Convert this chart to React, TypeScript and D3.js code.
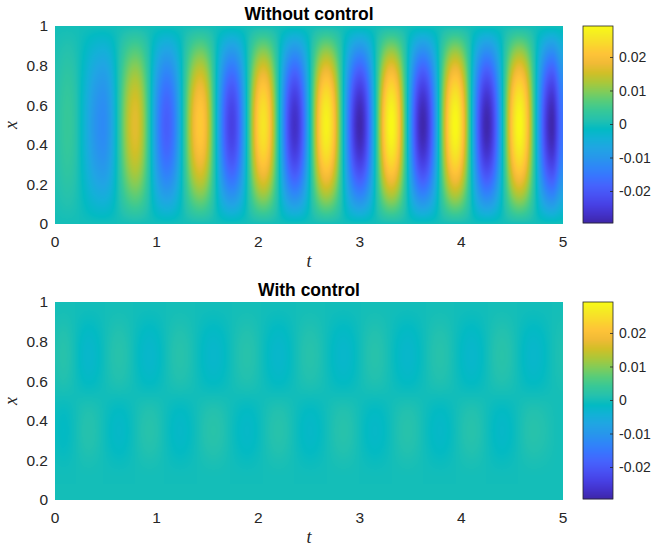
import React, { useMemo } from 'react'
import * as d3 from 'd3'

// crest / trough values read at x = 0.5, "Without control"
const topTimes = [0, 0.12, 0.47, 0.79, 1.1, 1.43, 1.74, 2.05, 2.36, 2.67, 3.0, 3.31, 3.62, 3.94, 4.25, 4.57, 4.89, 5.0]
const topPeaks = [0.002, 0.004, -0.012, 0.017, -0.019, 0.022, -0.024, 0.026, -0.027, 0.028, -0.029, 0.029, -0.029, 0.029, -0.029, 0.029, -0.029, -0.016]

// "With control": two weak lobes (upper near x = 0.73, lower near x = 0.35)
const botTimes = [0, 0.08, 0.33, 0.63, 0.93, 1.23, 1.56, 1.89, 2.2, 2.51, 2.84, 3.15, 3.47, 3.79, 4.1, 4.4, 4.71, 5.0]
const upperLobe = [0.0012, 0.0018, -0.0025, 0.0018, -0.0025, 0.0018, -0.0025, 0.0018, -0.0025, 0.0018, -0.0025, 0.0018, -0.0025, 0.0018, -0.0025, 0.002, -0.0025, 0.001]
const lowerLobe = [-0.001, -0.0015, 0.0016, -0.002, 0.0018, -0.002, 0.002, -0.002, 0.0018, -0.002, 0.0018, -0.002, 0.0018, -0.002, 0.0018, -0.002, 0.0018, 0]

const tTicks = [0, 1, 2, 3, 4, 5]
const xTicks = [0, 0.2, 0.4, 0.6, 0.8, 1]
const cbTicks = [-0.02, -0.01, 0, 0.01, 0.02]
const cLim = 0.0294

// parula (every 3rd entry of the 64 map)
const parula = [
  [0.2422, 0.1504, 0.6603], [0.2647, 0.1978, 0.7952], [0.2783, 0.2559, 0.8991], [0.281, 0.3228, 0.9579],
  [0.2699, 0.3892, 0.9906], [0.2206, 0.4603, 0.9973], [0.1786, 0.5289, 0.9682], [0.154, 0.5902, 0.9218],
  [0.1248, 0.6459, 0.8883], [0.0689, 0.6948, 0.8394], [0.0067, 0.7312, 0.766], [0.1408, 0.7584, 0.6842],
  [0.2161, 0.7843, 0.5923], [0.3406, 0.8008, 0.4789], [0.5044, 0.7993, 0.348], [0.672, 0.7793, 0.2227],
  [0.8203, 0.7498, 0.1535], [0.9393, 0.7288, 0.21], [0.997, 0.7659, 0.2199], [0.9786, 0.8386, 0.1766],
  [0.9597, 0.9135, 0.1423], [0.9769, 0.9839, 0.0805],
]

const W = 653
const H = 546
const L = 55
const R = 563
const panels = [
  { title: 'Without control', top: 26, bottom: 224 },
  { title: 'With control', top: 302, bottom: 500 },
]
const cbL = 583
const cbR = 613
const font = 'Liberation Sans, Arial, Helvetica, sans-serif'
const ink = '#262626'
const tickSize = 15.5

const colorScale = d3.scaleLinear<string>()
  .domain(parula.map((_, i) => -cLim + (2 * cLim * i) / (parula.length - 1)))
  .range(parula.map(c => d3.rgb(c[0] * 255, c[1] * 255, c[2] * 255).formatHex()))
  .interpolate(d3.interpolateRgb)
  .clamp(true)

// half-cosine between read extrema
function sample(times: number[], vals: number[], t: number) {
  let i = d3.bisectRight(times, t) - 1
  i = Math.max(0, Math.min(times.length - 2, i))
  const s = (t - times[i]) / (times[i + 1] - times[i])
  return vals[i] + (vals[i + 1] - vals[i]) * (1 - Math.cos(Math.PI * s)) / 2
}

function bump(x: number, c: number, w: number) {
  const d = Math.abs(x - c)
  if (d >= w) return 0
  const v = Math.cos((Math.PI * d) / (2 * w))
  return v * v
}

const fields = [
  (t: number, x: number) => sample(topTimes, topPeaks, t) * Math.sin(Math.PI * x),
  (t: number, x: number) =>
    sample(botTimes, upperLobe, t) * bump(x, 0.73, 0.3) + sample(botTimes, lowerLobe, t) * bump(x, 0.35, 0.27),
]

function renderField(f: (t: number, x: number) => number, top: number, bottom: number) {
  const tScale = d3.scaleLinear().domain([0, 5]).range([L, R])
  const xScale = d3.scaleLinear().domain([0, 1]).range([bottom, top])
  const w = R - L
  const h = bottom - top
  const canvas = document.createElement('canvas')
  canvas.width = w
  canvas.height = h
  const ctx = canvas.getContext('2d')!
  const img = ctx.createImageData(w, h)
  // colour lookup table
  const n = 512
  const lut = d3.range(n).map(k => d3.rgb(colorScale(-cLim + (2 * cLim * k) / (n - 1))))
  for (let py = 0; py < h; py++) {
    const x = xScale.invert(top + py + 0.5)
    for (let px = 0; px < w; px++) {
      const t = tScale.invert(L + px + 0.5)
      const v = f(t, x)
      const k = Math.round(((Math.max(-cLim, Math.min(cLim, v)) + cLim) / (2 * cLim)) * (n - 1))
      const c = lut[k]
      const o = (py * w + px) * 4
      img.data[o] = c.r
      img.data[o + 1] = c.g
      img.data[o + 2] = c.b
      img.data[o + 3] = 255
    }
  }
  ctx.putImageData(img, 0, 0)
  return canvas.toDataURL()
}

const Panel = ({ idx }: { idx: number }) => {
  const { title, top, bottom } = panels[idx]
  const url = useMemo(() => renderField(fields[idx], top, bottom), [idx])
  const tScale = d3.scaleLinear().domain([0, 5]).range([L, R])
  const xScale = d3.scaleLinear().domain([0, 1]).range([bottom, top])
  const cScale = d3.scaleLinear().domain([-cLim, cLim]).range([bottom - 1, top])
  const rows = d3.range(Math.round(bottom - 1 - top))
  const cx = (L + R) / 2

  return (
    <g>
      <image href={url} x={L} y={top} width={R - L} height={bottom - top} preserveAspectRatio="none" />

      {/* colorbar */}
      {rows.map(r => (
        <rect key={r} x={cbL} y={top + r} width={cbR - cbL} height={1.2}
          fill={colorScale(cScale.invert(top + r + 0.5))} />
      ))}
      <rect x={cbL} y={top} width={cbR - cbL} height={bottom - 1 - top} fill="none" stroke={ink} strokeWidth={0.8} />
      {cbTicks.map(v => (
        <g key={v}>
          <line x1={cbR - 3} x2={cbR} y1={cScale(v)} y2={cScale(v)} stroke={ink} strokeWidth={0.8} />
          <text x={cbR + 6} y={cScale(v)} dy="0.35em" fontSize={14} fontFamily={font} fill={ink}>
            {v === 0 ? '0' : v.toString()}
          </text>
        </g>
      ))}

      {/* axes labels */}
      {tTicks.map(v => (
        <text key={v} x={tScale(v)} y={bottom + 23} textAnchor="middle" fontSize={tickSize} fontFamily={font} fill={ink}>
          {v}
        </text>
      ))}
      {xTicks.map(v => (
        <text key={v} x={L - 7} y={xScale(v)} dy="0.35em" textAnchor="end" fontSize={tickSize} fontFamily={font} fill={ink}>
          {v}
        </text>
      ))}
      <text x={cx} y={top - 6} textAnchor="middle" fontSize={17.5} fontWeight="bold" fontFamily={font} fill="#000">
        {title}
      </text>
      <text x={cx} y={bottom + 43} textAnchor="middle" fontSize={18} fontStyle="italic"
        fontFamily="Liberation Serif, DejaVu Serif, serif" fill={ink}>t</text>
      <text transform={`translate(17,${(top + bottom) / 2}) rotate(-90)`} textAnchor="middle" fontSize={18}
        fontStyle="italic" fontFamily="Liberation Serif, DejaVu Serif, serif" fill={ink}>x</text>
    </g>
  )
}

export default function App() {
  return (
    <svg width={W} height={H} style={{ position: 'absolute', left: 0, top: 0, background: '#fff' }}>
      <Panel idx={0} />
      <Panel idx={1} />
    </svg>
  )
}
